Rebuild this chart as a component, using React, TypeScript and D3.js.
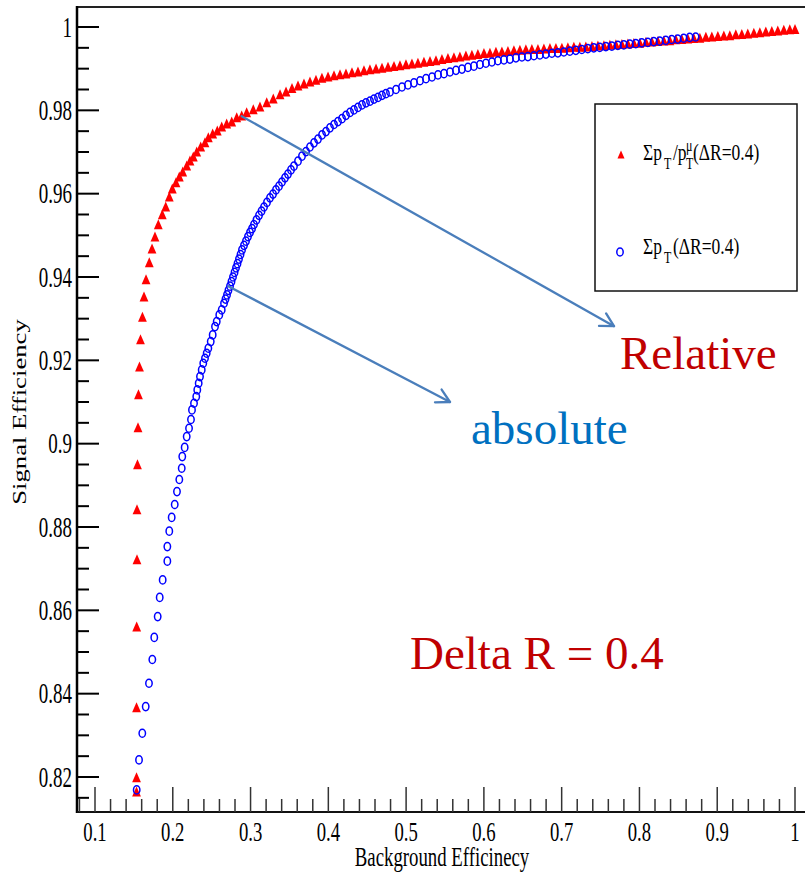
import React from "react";
import * as d3 from "d3";

// Signal vs background efficiency for the two isolation variables (ΔR = 0.4)
type Pt = [number, number];

// Σp_T / p_T^μ (relative isolation)
const relativeEff: Pt[] = [
  [0.1534, 0.8164], [0.1534, 0.8198], [0.1534, 0.8366], [0.1536, 0.856], [0.154, 0.8721],
  [0.154, 0.8841], [0.1546, 0.8949], [0.1553, 0.9038], [0.1559, 0.9117], [0.1572, 0.9184],
  [0.1585, 0.9249], [0.161, 0.9303], [0.163, 0.9352], [0.1656, 0.9393], [0.1698, 0.9434],
  [0.1733, 0.9467], [0.1771, 0.9496], [0.1814, 0.9525], [0.1865, 0.9549], [0.1909, 0.9568],
  [0.1955, 0.9592], [0.1994, 0.9611], [0.2041, 0.9626], [0.2084, 0.964], [0.2128, 0.9652],
  [0.2179, 0.9666], [0.2221, 0.9678], [0.2264, 0.9688], [0.2308, 0.97], [0.2359, 0.9712],
  [0.2414, 0.9722], [0.2457, 0.9734], [0.2513, 0.9743], [0.2572, 0.975], [0.2629, 0.976],
  [0.2693, 0.9767], [0.2758, 0.9772], [0.2822, 0.9782], [0.2886, 0.9786], [0.295, 0.9794],
  [0.3035, 0.9801], [0.3121, 0.9808], [0.3208, 0.9818], [0.3292, 0.9827], [0.3379, 0.9837],
  [0.3456, 0.9844], [0.3533, 0.9852], [0.361, 0.9858], [0.3687, 0.9863], [0.3764, 0.9868],
  [0.3841, 0.9872], [0.3918, 0.9877], [0.3996, 0.988], [0.4073, 0.9883], [0.415, 0.9885],
  [0.4227, 0.9887], [0.4304, 0.989], [0.4381, 0.9892], [0.4458, 0.9895], [0.4535, 0.9897],
  [0.4613, 0.9899], [0.469, 0.9901], [0.4767, 0.9903], [0.4844, 0.9905], [0.4921, 0.9907],
  [0.4998, 0.9909], [0.5075, 0.9911], [0.5152, 0.9913], [0.5229, 0.9915], [0.5307, 0.9917],
  [0.5384, 0.9919], [0.5461, 0.9922], [0.5538, 0.9924], [0.5615, 0.9926], [0.5692, 0.9928],
  [0.5769, 0.993], [0.5846, 0.9932], [0.5923, 0.9934], [0.6001, 0.9936], [0.6078, 0.9937],
  [0.6155, 0.9939], [0.6232, 0.994], [0.6309, 0.9941], [0.6386, 0.9943], [0.6463, 0.9944],
  [0.654, 0.9945], [0.6617, 0.9946], [0.6695, 0.9946], [0.6772, 0.9947], [0.6849, 0.9948],
  [0.6926, 0.9948], [0.7003, 0.9949], [0.708, 0.995], [0.7157, 0.9951], [0.7234, 0.9951],
  [0.7311, 0.9952], [0.7389, 0.9953], [0.7466, 0.9954], [0.7543, 0.9955], [0.762, 0.9956],
  [0.7697, 0.9957], [0.7774, 0.9958], [0.7851, 0.9959], [0.7928, 0.996], [0.8005, 0.9961],
  [0.8083, 0.9963], [0.816, 0.9964], [0.8237, 0.9965], [0.8314, 0.9966], [0.8391, 0.9967],
  [0.8468, 0.9969], [0.8545, 0.997], [0.8622, 0.9971], [0.8699, 0.9972], [0.8777, 0.9973],
  [0.8854, 0.9975], [0.8931, 0.9976], [0.9008, 0.9977], [0.9085, 0.9978], [0.9162, 0.9979],
  [0.9239, 0.9981], [0.9316, 0.9982], [0.9393, 0.9983], [0.9471, 0.9985], [0.9548, 0.9986],
  [0.9625, 0.9988], [0.9702, 0.9989], [0.9779, 0.999], [0.9856, 0.9992], [0.9933, 0.9993],
  [1.0, 0.9994],
];

// Σp_T (absolute isolation)
const absoluteEff: Pt[] = [
  [0.1536, 0.8169], [0.1566, 0.8241], [0.1608, 0.8305], [0.1652, 0.8369], [0.1694, 0.8425],
  [0.1737, 0.8482], [0.1762, 0.8535], [0.1806, 0.8585], [0.1832, 0.8631], [0.187, 0.8673],
  [0.193, 0.8718], [0.193, 0.8753], [0.1955, 0.879], [0.1986, 0.8823], [0.2025, 0.8854],
  [0.2054, 0.8885], [0.2084, 0.8914], [0.2115, 0.8941], [0.2122, 0.8969], [0.2153, 0.8991],
  [0.2179, 0.9017], [0.2209, 0.9037], [0.2234, 0.9058], [0.2247, 0.9081], [0.2273, 0.9097],
  [0.2302, 0.9113], [0.2315, 0.9129], [0.2333, 0.9145], [0.235, 0.9161], [0.2372, 0.9177],
  [0.2392, 0.9193], [0.2414, 0.9205], [0.2436, 0.9217], [0.2457, 0.9229], [0.2488, 0.9245],
  [0.2513, 0.9261], [0.2543, 0.9281], [0.2565, 0.9293], [0.2598, 0.9309], [0.2629, 0.9321],
  [0.2659, 0.9337], [0.2678, 0.9347], [0.2697, 0.9357], [0.2716, 0.9368], [0.2736, 0.9378],
  [0.2755, 0.9389], [0.2774, 0.94], [0.2794, 0.9411], [0.2813, 0.9422], [0.2832, 0.9432],
  [0.2851, 0.9443], [0.2871, 0.9454], [0.289, 0.9465], [0.2916, 0.9476], [0.2941, 0.9486],
  [0.2967, 0.9497], [0.2993, 0.9507], [0.3019, 0.9516], [0.3044, 0.9526], [0.3076, 0.9537],
  [0.3109, 0.9548], [0.3141, 0.9558], [0.3173, 0.9568], [0.3211, 0.9579], [0.325, 0.959],
  [0.3289, 0.9599], [0.3327, 0.9609], [0.3366, 0.9618], [0.3404, 0.9628], [0.3443, 0.9638],
  [0.3481, 0.9647], [0.352, 0.9657], [0.3558, 0.9666], [0.361, 0.9678], [0.3661, 0.969],
  [0.3713, 0.9701], [0.3764, 0.9712], [0.3816, 0.9722], [0.3867, 0.9731], [0.3919, 0.9741],
  [0.397, 0.9749], [0.4021, 0.9758], [0.4073, 0.9766], [0.4124, 0.9773], [0.4176, 0.978],
  [0.4227, 0.9788], [0.4279, 0.9795], [0.433, 0.9801], [0.4381, 0.9807], [0.4433, 0.9813],
  [0.4484, 0.9818], [0.4536, 0.9822], [0.4587, 0.9827], [0.4639, 0.9831], [0.469, 0.9836],
  [0.4741, 0.984], [0.4793, 0.9844], [0.487, 0.985], [0.4947, 0.9856], [0.5024, 0.9861],
  [0.5101, 0.9866], [0.5179, 0.9871], [0.5256, 0.9876], [0.5333, 0.988], [0.541, 0.9885],
  [0.5487, 0.9888], [0.5564, 0.9892], [0.5641, 0.9896], [0.5718, 0.9899], [0.5795, 0.9903],
  [0.5872, 0.9906], [0.5949, 0.991], [0.6026, 0.9913], [0.6103, 0.9916], [0.618, 0.9919],
  [0.6258, 0.9921], [0.6335, 0.9923], [0.6412, 0.9926], [0.6489, 0.9928], [0.6566, 0.9929],
  [0.6643, 0.9931], [0.672, 0.9933], [0.6797, 0.9935], [0.6874, 0.9937], [0.6951, 0.9938],
  [0.7028, 0.994], [0.7105, 0.9942], [0.7182, 0.9944], [0.7259, 0.9946], [0.7336, 0.9948],
  [0.7413, 0.995], [0.749, 0.9951], [0.7568, 0.9953], [0.7645, 0.9954], [0.7722, 0.9956],
  [0.7799, 0.9957], [0.7876, 0.9959], [0.7953, 0.996], [0.803, 0.9962], [0.8107, 0.9963],
  [0.8184, 0.9965], [0.8261, 0.9966], [0.8338, 0.9968], [0.8415, 0.997], [0.8492, 0.9971],
  [0.8569, 0.9973], [0.8646, 0.9975], [0.8723, 0.9976],
];

const xTickValues = [0.1, 0.2, 0.3, 0.4, 0.5, 0.6, 0.7, 0.8, 0.9, 1];
const xTickLabels = ["0.1", "0.2", "0.3", "0.4", "0.5", "0.6", "0.7", "0.8", "0.9", "1"];
const yTickValues = [0.82, 0.84, 0.86, 0.88, 0.9, 0.92, 0.94, 0.96, 0.98, 1];
const yTickLabels = ["0.82", "0.84", "0.86", "0.88", "0.9", "0.92", "0.94", "0.96", "0.98", "1"];

const xTitle = "Background Efficinecy";
const yTitle = "Signal Efficiency";
const notes = { relative: "Relative", absolute: "absolute", cone: "Delta R = 0.4" };

const SERIF = "'Liberation Serif', 'Times New Roman', Times, serif";
const RED = "#ff0000";
const BLUE = "#0000ff";
const ARROW = "#4a7ebb";

// frame geometry
const LEFT = 77;
const BOTTOM = 812;
const TOP = 7;
const RIGHT = 805;

// triangle marker, slightly taller than wide
const tri = "M0,-5.6 L4.4,4.4 L-4.4,4.4 Z";
const RX = 3.2;
const RY = 4.1;

function SText(props: {
  x: number; y: number; k?: number; size: number; anchor?: string; fill?: string; children: React.ReactNode;
}) {
  const { x, y, k = 1.45, size, anchor = "start", fill = "#000", children } = props;
  return (
    <text
      transform={`translate(${x},${y}) scale(1,${k})`}
      fontSize={size}
      textAnchor={anchor as any}
      fill={fill}
      fontFamily={SERIF}
    >
      {children}
    </text>
  );
}

function Arrow({ x1, y1, x2, y2 }: { x1: number; y1: number; x2: number; y2: number }) {
  const a = Math.atan2(y2 - y1, x2 - x1);
  const len = 15;
  const spread = 0.5;
  const p1 = [x2 - len * Math.cos(a - spread), y2 - len * Math.sin(a - spread)];
  const p2 = [x2 - len * Math.cos(a + spread), y2 - len * Math.sin(a + spread)];
  return (
    <g stroke={ARROW} strokeWidth={2.3} fill="none" strokeLinecap="round" strokeLinejoin="round">
      <line x1={x1} y1={y1} x2={x2} y2={y2} />
      <path d={`M${p1[0]},${p1[1]} L${x2},${y2} L${p2[0]},${p2[1]}`} />
    </g>
  );
}

export default function App() {
  const x = d3.scaleLinear().domain([0.1, 1]).range([95, 795]);
  const y = d3.scaleLinear().domain([0.82, 1]).range([777, 27]);

  const yMinor = d3.range(163, 201).filter((i) => i % 4 !== 0).map((i) => i * 0.005);
  const xMinor = d3.range(4, 51).filter((i) => i % 5 !== 0).map((i) => i * 0.02);

  return (
    <svg
      width={805}
      height={873}
      style={{ position: "absolute", left: 0, top: 0, background: "#fff" }}
    >
      <rect x={0} y={0} width={805} height={873} fill="#fff" />

      {/* frame */}
      <line x1={LEFT} y1={TOP} x2={RIGHT} y2={TOP} stroke="#222" strokeWidth={2} />
      <line x1={LEFT} y1={TOP - 1} x2={LEFT} y2={BOTTOM + 1} stroke="#000" strokeWidth={2.5} />
      <line x1={LEFT} y1={BOTTOM} x2={RIGHT} y2={BOTTOM} stroke="#111" strokeWidth={2} />

      {/* y ticks */}
      {yTickValues.map((v) => (
        <line key={"ym" + v} x1={LEFT} x2={LEFT + 22} y1={y(v)} y2={y(v)} stroke="#000" strokeWidth={2} />
      ))}
      {yMinor.map((v) => (
        <line key={"yn" + v} x1={LEFT} x2={LEFT + 12} y1={y(v)} y2={y(v)} stroke="#000" strokeWidth={2} />
      ))}
      {yTickValues.map((v, i) => (
        <SText key={"yl" + v} x={72} y={y(v) + 9.5} k={1.5} size={19} anchor="end">
          {yTickLabels[i]}
        </SText>
      ))}

      {/* x ticks */}
      {xTickValues.map((v) => (
        <line key={"xm" + v} x1={x(v)} x2={x(v)} y1={BOTTOM} y2={BOTTOM - 25} stroke="#333" strokeWidth={1.5} />
      ))}
      {xMinor.map((v) => (
        <line key={"xn" + v} x1={x(v)} x2={x(v)} y1={BOTTOM} y2={BOTTOM - 13} stroke="#333" strokeWidth={1.5} />
      ))}
      {xTickValues.map((v, i) => (
        <SText key={"xl" + v} x={x(v)} y={841} k={1.45} size={18.7} anchor="middle">
          {xTickLabels[i]}
        </SText>
      ))}

      {/* axis titles */}
      <SText x={442} y={866} k={1.4} size={18.8} anchor="middle">
        {xTitle}
      </SText>
      <text
        transform="translate(26,412) rotate(-90) scale(1.42,1)"
        fontSize={18.8}
        textAnchor="middle"
        fontFamily={SERIF}
        fill="#000"
      >
        {yTitle}
      </text>

      {/* series */}
      <g fill={RED}>
        {relativeEff.map((d, i) => (
          <path key={"r" + i} d={tri} transform={`translate(${x(d[0])},${y(d[1])})`} />
        ))}
      </g>
      <g fill="none" stroke={BLUE} strokeWidth={1.5}>
        {absoluteEff.map((d, i) => (
          <ellipse key={"b" + i} cx={x(d[0])} cy={y(d[1])} rx={RX} ry={RY} />
        ))}
      </g>

      {/* legend */}
      <rect x={595} y={104} width={202} height={187} fill="#fff" stroke="#111" strokeWidth={1.5} />
      <path d={tri} transform="translate(621,155) scale(0.8)" fill={RED} />
      <ellipse cx={620} cy={252} rx={RX} ry={RY} fill="none" stroke={BLUE} strokeWidth={1.5} />
      <g transform="translate(0,160) scale(1,1.35)" fontFamily={SERIF} fill="#000">
        <text fontSize={17.5}>
          <tspan x={643} y={0}>Σp</tspan>
          <tspan x={664} y={7} fontSize={12}>T</tspan>
          <tspan x={673} y={0}>/p</tspan>
          <tspan x={686} y={7} fontSize={12}>T</tspan>
          <tspan x={686} y={-7} fontSize={12}>μ</tspan>
          <tspan x={693} y={0}>(ΔR=0.4)</tspan>
        </text>
      </g>
      <g transform="translate(0,254) scale(1,1.35)" fontFamily={SERIF} fill="#000">
        <text fontSize={17.5}>
          <tspan x={643} y={0}>Σp</tspan>
          <tspan x={664} y={7} fontSize={12}>T</tspan>
          <tspan x={673} y={0}>(ΔR=0.4)</tspan>
        </text>
      </g>

      {/* annotations */}
      <Arrow x1={x(0.2886)} y1={y(0.9786)} x2={x(0.7673)} y2={y(0.9282)} />
      <Arrow x1={x(0.2713)} y1={y(0.9378)} x2={x(0.5564)} y2={y(0.91)} />
      <text x={620} y={369} fontSize={47} fontFamily={SERIF} fill="#c00000">
        {notes.relative}
      </text>
      <text x={471} y={444} fontSize={47} fontFamily={SERIF} fill="#0070c0">
        {notes.absolute}
      </text>
      <text x={410} y={669} fontSize={47} fontFamily={SERIF} fill="#c00000">
        {notes.cone}
      </text>
    </svg>
  );
}
